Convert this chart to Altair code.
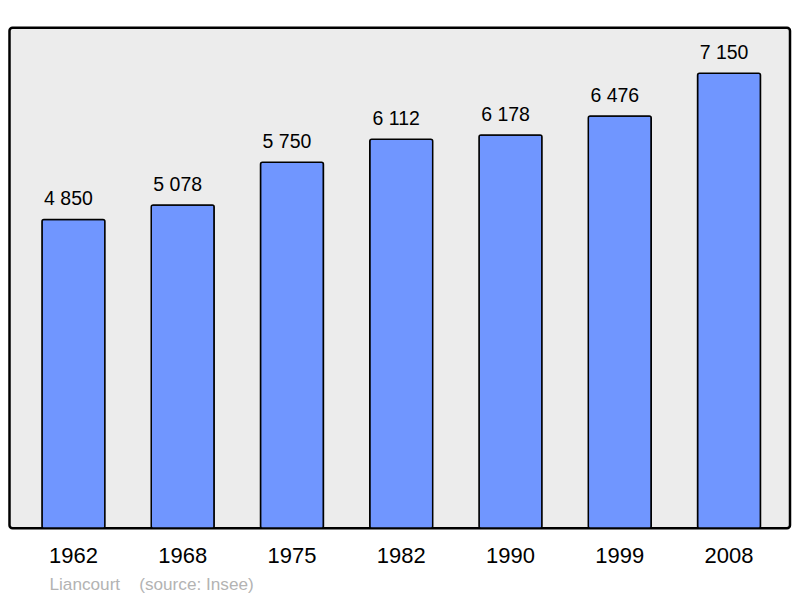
import altair as alt
import pandas as pd

years = ["1962", "1968", "1975", "1982", "1990", "1999", "2008"]
population = [4850, 5078, 5750, 6112, 6178, 6476, 7150]
labels = ["4 850", "5 078", "5 750", "6 112", "6 178", "6 476", "7 150"]

df = pd.DataFrame({"year": years, "pop": population, "label": labels})

x = alt.X("year:N", sort=years, title=None,
          scale=alt.Scale(paddingInner=0.4238, paddingOuter=0.2835, align=0.524),
          axis=alt.Axis(labelAngle=0, labelFontSize=22, labelFont="Liberation Sans",
                        labelColor="#000000", ticks=False, domain=False,
                        labelPadding=17, grid=False))
y = alt.Y("pop:Q", title=None, scale=alt.Scale(domain=[0, 7865], nice=False, zero=True),
          axis=None)

bars = alt.Chart(df).mark_bar(color="#7096ff", stroke="#000000", strokeWidth=1.5,
                              cornerRadius=2).encode(x=x, y=y)
text = alt.Chart(df).mark_text(baseline="alphabetic", dy=-14.5, dx=-5, fontSize=19.5,
                               font="Liberation Sans", color="#000000").encode(
    x=x, y=y, text="label:N")

chart = alt.layer(bars, text).properties(
    width=781, height=501,
    autosize=alt.AutoSizeParams(type="none"),
    padding={"left": 1.5, "top": 19.5, "right": 2, "bottom": 76},
    title=alt.TitleParams(
        "Liancourt\u00a0\u00a0\u00a0\u00a0(source: Insee)",
        orient="bottom", anchor="start", fontSize=17.2, font="Liberation Sans",
        fontWeight="normal", color="#b3b3b3", dx=40, offset=10),
).configure_view(
    fill="#ececec", stroke="#000000", strokeWidth=2.5, cornerRadius=3
)

chart.save("out.html", embed_options={"renderer": "svg", "actions": False})
